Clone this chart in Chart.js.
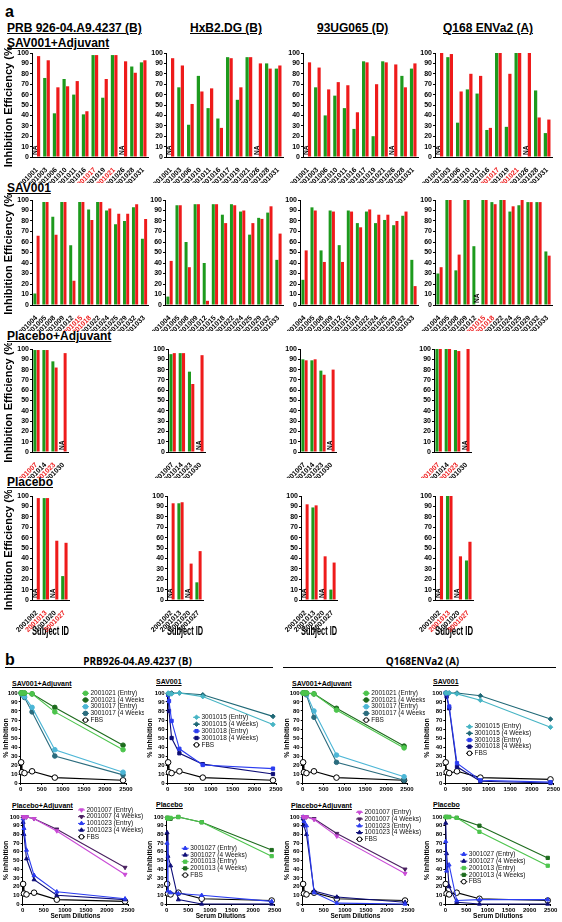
<!DOCTYPE html>
<html>
<head>
<meta charset="utf-8">
<script src="https://cdn.jsdelivr.net/npm/chart.js@4.4.1/dist/chart.umd.min.js"></script>
<style>
  body { margin: 0; background: #fff; }
  #page { position: relative; width: 562px; height: 922px; overflow: hidden; font-family: "Liberation Sans", Arial, sans-serif; }
  #page canvas { position: absolute; }
  .lbl { position: absolute; font-weight: bold; white-space: nowrap; line-height: 1; color: #000; }
  .u { text-decoration: underline; }
  .rule { position: absolute; height: 0; border-top: 1px solid #000; }
</style>
</head>
<body>
<div id="page"></div>
<script>
// ---------- panel a: subject ids for each group
const savAdjIds = ['1001001','1001003','2001006','2001010','2001011','3001016','3001017','3001019','2001021','3001026','4001028','4001031'];
const savIds = ['2001004','1001005','2001008','2001009','2001012','3001015','3001018','2001022','3001024','1001025','4001029','3001032','3001033'];
const plaAdjIds = ['2001007','1001014','1001023','4001030'];
const plaIds = ['2001002','2001013','1001020','3001027'];

// ids printed in red (only in the PRB and Q168 columns)
const savAdjRedIds = ['3001017','2001021'];
const savRedIds = ['3001015','3001018'];
const plaAdjRedIds = ['2001007','1001023'];
const plaRedIds = ['2001013','3001027'];

// inhibition efficiency (%), null = NA
// SAV001+Adjuvant
const savAdjPrbGreen  = [null,76,42,75,60,41,98,57,98,null,87,91];
const savAdjPrbRed    = [97,93,67,68,73,44,98,75,98,92,81,93];
const savAdjHxbGreen  = [null,67,31,78,47,37,96,55,96,null,90,85];
const savAdjHxbRed    = [95,88,51,63,66,28,95,67,96,90,85,88];
const savAdjUgGreen   = [null,67,40,59,47,27,92,20,92,null,78,85];
const savAdjUgRed     = [91,86,65,72,69,43,91,70,91,89,67,90];
const savAdjQ168Green = [null,96,33,65,61,26,100,29,100,null,64,23];
const savAdjQ168Red   = [100,99,63,80,78,28,100,80,100,100,38,36];
// SAV001
const savPrbGreen  = [11,98,84,98,57,98,91,98,90,77,80,93,63];
const savPrbRed    = [66,98,67,98,23,98,81,98,92,87,87,96,82];
const savHxbGreen  = [8,95,60,96,40,96,86,96,89,67,83,88,43];
const savHxbRed    = [42,95,36,96,4,96,78,95,90,78,82,94,68];
const savUgGreen   = [24,93,52,90,57,90,78,89,78,81,76,85,43];
const savUgRed     = [52,90,41,89,41,89,74,91,86,86,80,89,18];
const savQ168Green = [30,100,33,100,56,100,98,100,89,95,98,98,51];
const savQ168Red   = [36,100,48,100,null,100,96,100,94,100,98,98,47];
// Placebo+Adjuvant
const plaAdjPrbGreen  = [99,99,88,null];
const plaAdjPrbRed    = [99,99,82,96];
const plaAdjHxbGreen  = [95,96,78,null];
const plaAdjHxbRed    = [96,96,66,94];
const plaAdjUgGreen   = [90,89,79,null];
const plaAdjUgRed     = [89,90,75,80];
const plaAdjQ168Green = [100,100,99,null];
const plaAdjQ168Red   = [100,100,98,100];
// Placebo
const plaPrbGreen  = [null,98,null,23];
const plaPrbRed    = [98,98,57,55];
const plaHxbGreen  = [null,93,null,17];
const plaHxbRed    = [93,94,35,47];
const plaUgGreen   = [null,89,null,10];
const plaUgRed     = [92,91,42,36];
const plaQ168Green = [null,100,null,38];
const plaQ168Red   = [100,100,42,56];

// ---------- panel b: % inhibition at each serum dilution
const dilutions = [10, 30, 90, 270, 810, 2430];
const xTicks = [0, 500, 1000, 1500, 2000, 2500];

// PRB926-04.A9.4237 (B)
const prbSavAdj_2001021_entry = [100,100,100,99,79,37];
const prbSavAdj_2001021_wk4   = [100,100,100,99,84,42];
const prbSavAdj_3001017_entry = [100,99,96,84,37,12];
const prbSavAdj_3001017_wk4   = [100,98,95,79,30,9];
const prbSavAdj_fbs           = [23,12,11,13,6,3];
const prbSav_3001015_entry = [100,99,99,100,96,65];
const prbSav_3001015_wk4   = [99,99,100,100,98,74];
const prbSav_3001018_entry = [98,91,69,38,20,16];
const prbSav_3001018_wk4   = [98,80,50,33,21,10];
const prbSav_fbs           = [23,12,11,13,6,3];
const prbPlaAdj_2001007_entry = [100,100,100,98,84,34];
const prbPlaAdj_2001007_wk4   = [100,100,100,98,86,42];
const prbPlaAdj_1001023_entry = [98,87,62,33,14,6];
const prbPlaAdj_1001023_wk4   = [94,80,52,28,10,5];
const prbPlaAdj_fbs           = [23,12,11,13,5,3];
const prbPla_3001027_entry = [70,15,13,12,10,3];
const prbPla_3001027_wk4   = [82,55,44,5,0,0];
const prbPla_2001013_entry = [99,98,99,100,94,55];
const prbPla_2001013_wk4   = [99,99,98,100,94,62];
const prbPla_fbs           = [23,12,11,13,6,4];
// Q168ENVa2 (A)
const q168SavAdj_2001021_entry = [100,100,100,99,81,39];
const q168SavAdj_2001021_wk4   = [100,100,100,99,83,41];
const q168SavAdj_3001017_entry = [100,100,99,80,31,7];
const q168SavAdj_3001017_wk4   = [100,100,98,73,23,3];
const q168SavAdj_fbs           = [23,12,11,13,6,3];
const q168Sav_3001015_entry = [100,100,100,99,92,62];
const q168Sav_3001015_wk4   = [100,100,100,100,97,71];
const q168Sav_3001018_entry = [100,99,85,22,3,1];
const q168Sav_3001018_wk4   = [100,96,83,18,2,0];
const q168Sav_fbs           = [23,12,11,13,6,4];
const q168PlaAdj_2001007_entry = [100,100,100,97,78,35];
const q168PlaAdj_2001007_wk4   = [100,100,100,98,81,40];
const q168PlaAdj_1001023_entry = [100,95,90,13,1,0];
const q168PlaAdj_1001023_wk4   = [98,90,80,15,8,2];
const q168PlaAdj_fbs           = [23,12,11,13,6,4];
const q168Pla_3001027_entry = [72,38,45,4,5,5];
const q168Pla_3001027_wk4   = [93,58,20,2,0,0];
const q168Pla_2001013_entry = [100,100,100,99,83,44];
const q168Pla_2001013_wk4   = [100,100,100,99,90,53];
const q168Pla_fbs           = [23,12,11,13,6,4];

// ---------- styling
const FONT = '"Liberation Sans", Arial, sans-serif';
const GREEN = '#1d9a1d', RED = '#ee1b1b';
const C = {
  lgreen: '#4cc44c', dgreen: '#1d6b1d',
  cyan: '#4cb6d6', teal: '#2b6c7e',
  lteal: '#46b4c4', dteal: '#1f6876',
  blue: '#2b3cf0', navy: '#0d0d78',
  magenta: '#c94ad6', purple: '#4a2060'
};

const page = document.getElementById('page');

function addCanvas(x, y, w, h) {
  const c = document.createElement('canvas');
  c.width = w; c.height = h;
  c.style.left = x + 'px'; c.style.top = y + 'px';
  c.style.width = w + 'px'; c.style.height = h + 'px';
  page.appendChild(c);
  return c;
}

function addText(txt, x, top, size, opt = {}) {
  const d = document.createElement('div');
  d.className = 'lbl' + (opt.u ? ' u' : '');
  d.textContent = txt;
  d.style.fontSize = size + 'px';
  d.style.top = top + 'px';
  d.style.left = x + 'px';
  if (opt.family) d.style.fontFamily = opt.family;
  if (opt.center) d.style.transform = 'translateX(-50%)';
  page.appendChild(d);
}

function addRule(x, y, w) {
  const d = document.createElement('div');
  d.className = 'rule';
  d.style.left = x + 'px'; d.style.top = y + 'px'; d.style.width = w + 'px';
  page.appendChild(d);
}

// writes "NA" where a bar is missing
const naPlugin = {
  id: 'naMarks',
  afterDatasetsDraw(chart) {
    const { ctx, chartArea } = chart;
    ctx.save();
    ctx.font = 'bold 6.5px ' + FONT;
    ctx.fillStyle = '#000';
    ctx.textBaseline = 'middle';
    ctx.textAlign = 'left';
    chart.data.datasets.forEach((ds, d) => {
      const meta = chart.getDatasetMeta(d);
      ds.data.forEach((v, i) => {
        if (v !== null) return;
        ctx.save();
        ctx.translate(meta.data[i].x, chartArea.bottom - 2);
        ctx.rotate(-Math.PI / 2);
        ctx.fillText('NA', 0, 0);
        ctx.restore();
      });
    });
    ctx.restore();
  }
};

// legend drawn inside the plot, like the original
const inLegend = {
  id: 'inLegend',
  afterDraw(chart, args, opts) {
    if (opts.x === undefined) return;
    const ctx = chart.ctx;
    ctx.save();
    ctx.font = '6.5px ' + FONT;
    ctx.textBaseline = 'middle';
    ctx.textAlign = 'left';
    chart.data.datasets.forEach((ds, i) => {
      const y = opts.y + i * opts.dy;
      ctx.lineWidth = 1;
      ctx.strokeStyle = ds.borderColor;
      ctx.beginPath(); ctx.moveTo(opts.x, y); ctx.lineTo(opts.x + 7, y); ctx.stroke();
      ctx.fillStyle = ds.pointBackgroundColor;
      ctx.strokeStyle = ds.pointBorderColor;
      if (Chart.helpers && Chart.helpers.drawPoint) {
        Chart.helpers.drawPoint(ctx, { pointStyle: ds.pointStyle, rotation: ds.pointRotation, radius: 2.3, borderWidth: 1 }, opts.x + 3.5, y);
      }
      ctx.fillStyle = '#111';
      ctx.fillText(ds.label, opts.x + 8.5, y);
    });
    ctx.restore();
  }
};

function barChart(o) {
  const padT = 6, padR = 4;
  const cx = o.yTitle ? 0 : Math.round(o.left - 24);
  const cy = Math.round(o.top - padT);
  const xh = o.xTitle ? 39 : 26;
  const w = Math.round(o.right + padR - cx);
  const h = Math.round(o.bottom + xh - cy);
  const yw = o.left - cx;
  const cv = addCanvas(cx, cy, w, h);
  const tickFont = { size: 7, weight: 'bold', family: FONT };
  new Chart(cv, {
    type: 'bar',
    data: {
      labels: o.labels,
      datasets: [
        { data: o.green, backgroundColor: GREEN, categoryPercentage: 0.72, barPercentage: 0.92 },
        { data: o.red, backgroundColor: RED, categoryPercentage: 0.72, barPercentage: 0.92 }
      ]
    },
    options: {
      responsive: false, animation: false, devicePixelRatio: 1,
      layout: { padding: { top: o.top - cy, right: w - (o.right - cx), left: 0, bottom: 0 } },
      plugins: { legend: { display: false }, tooltip: { enabled: false } },
      scales: {
        x: {
          grid: { display: false },
          border: { color: '#000', width: 1 },
          ticks: {
            autoSkip: false, minRotation: 45, maxRotation: 45, padding: 1,
            font: { size: 7, weight: 'bold', family: FONT },
            color: c => (o.reds || []).includes(c.tick.label) ? RED : '#000'
          },
          title: { display: !!o.xTitle, text: 'Subject ID', color: '#000', padding: { top: 0, bottom: 0 },
                   font: { size: 12, weight: 'bold', family: FONT } },
          afterFit: s => { s.height = xh; }
        },
        y: {
          min: 0, max: 100,
          grid: { drawOnChartArea: false, tickLength: 2, color: '#000' },
          border: { color: '#000', width: 1 },
          ticks: { stepSize: 10, autoSkip: false, padding: 1, color: '#000', font: tickFont },
          title: { display: !!o.yTitle, text: 'Inhibition Efficiency (%)', color: '#000', padding: { top: 2, bottom: 0 },
                   font: { size: 11, weight: 'bold', family: FONT } },
          afterFit: s => { s.width = yw; }
        }
      }
    },
    plugins: [naPlugin]
  });
}

function lineChart(o) {
  const padR = 18;
  const cx = Math.round(o.titleX - 4.2);
  const cy = Math.round(Math.min(o.top - 5, o.legend.y - 5));
  const xh = o.xTitle ? 16 : 11;
  const w = Math.round(o.right + padR - cx);
  const h = Math.round(o.bottom + xh - cy);
  const yw = o.left - cx;
  const cv = addCanvas(cx, cy, w, h);
  const tickFont = { size: 6, weight: 'bold', family: FONT };
  const datasets = o.series.map(s => ({
    label: s.label,
    data: dilutions.map((d, i) => ({ x: d, y: s.y[i] })),
    borderColor: s.color, backgroundColor: s.color,
    pointBackgroundColor: s.open ? '#fff' : s.color,
    pointBorderColor: s.open ? '#000' : s.color,
    pointStyle: s.style, pointRotation: s.rot || 0,
    pointRadius: s.open ? 2.8 : 2.3, pointBorderWidth: 1,
    borderWidth: 1.1, tension: 0, clip: false
  }));
  new Chart(cv, {
    type: 'line',
    data: { datasets },
    options: {
      responsive: false, animation: false, devicePixelRatio: 1,
      layout: { padding: { top: o.top - cy, right: w - (o.right - cx), left: 0, bottom: 0 } },
      plugins: {
        legend: { display: false }, tooltip: { enabled: false },
        inLegend: { x: o.legend.x - cx, y: o.legend.y - cy, dy: o.legend.dy }
      },
      scales: {
        x: {
          type: 'linear', min: 0, max: 2500,
          afterBuildTicks: s => { s.ticks = xTicks.map(v => ({ value: v })); },
          grid: { drawOnChartArea: false, tickLength: 2, color: '#000' },
          border: { color: '#000', width: 1 },
          ticks: { autoSkip: false, maxRotation: 0, padding: 1, color: '#000', font: tickFont,
                   callback: v => String(v) },
          title: { display: !!o.xTitle, text: 'Serum Dilutions', color: '#000', padding: { top: 0, bottom: 0 },
                   font: { size: 6.5, weight: 'bold', family: FONT } },
          afterFit: s => { s.height = xh; }
        },
        y: {
          min: 0, max: 100,
          grid: { drawOnChartArea: false, tickLength: 2, color: '#000' },
          border: { color: '#000', width: 1 },
          ticks: { stepSize: 10, autoSkip: false, padding: 1, color: '#000', font: tickFont },
          title: { display: true, text: '% Inhibition', color: '#000', padding: { top: 0, bottom: 0 },
                   font: { size: 7, weight: 'bold', family: FONT } },
          afterFit: s => { s.width = yw; }
        }
      }
    },
    plugins: [inLegend]
  });
}

// ---------- panel a headings
addText('a', 5, 3.5, 16);
addText('PRB 926-04.A9.4237 (B)', 7, 22.4, 12, { u: true });
addText('HxB2.DG (B)', 190, 22.4, 12, { u: true });
addText('93UG065 (D)', 317, 22.4, 12, { u: true });
addText('Q168 ENVa2 (A)', 443, 22.4, 12, { u: true });
addText('SAV001+Adjuvant', 7, 36.9, 12, { u: true });
addText('SAV001', 7, 182.4, 12, { u: true });
addText('Placebo+Adjuvant', 7, 330.4, 12, { u: true });
addText('Placebo', 7, 476.4, 12, { u: true });

// row 1: SAV001+Adjuvant
barChart({ labels: savAdjIds, green: savAdjPrbGreen, red: savAdjPrbRed, reds: savAdjRedIds, left: 32, right: 148, top: 53, bottom: 157, yTitle: true });
barChart({ labels: savAdjIds, green: savAdjHxbGreen, red: savAdjHxbRed, left: 166, right: 283, top: 53, bottom: 157 });
barChart({ labels: savAdjIds, green: savAdjUgGreen, red: savAdjUgRed, left: 303, right: 418, top: 53, bottom: 157 });
barChart({ labels: savAdjIds, green: savAdjQ168Green, red: savAdjQ168Red, reds: savAdjRedIds, left: 435, right: 552, top: 53, bottom: 157 });
// row 2: SAV001
barChart({ labels: savIds, green: savPrbGreen, red: savPrbRed, reds: savRedIds, left: 32, right: 148.5, top: 200, bottom: 305, yTitle: true });
barChart({ labels: savIds, green: savHxbGreen, red: savHxbRed, left: 165, right: 283, top: 200, bottom: 305 });
barChart({ labels: savIds, green: savUgGreen, red: savUgRed, left: 300, right: 418, top: 200, bottom: 305 });
barChart({ labels: savIds, green: savQ168Green, red: savQ168Red, reds: savRedIds, left: 435, right: 552, top: 200, bottom: 305 });
// row 3: Placebo+Adjuvant
barChart({ labels: plaAdjIds, green: plaAdjPrbGreen, red: plaAdjPrbRed, reds: plaAdjRedIds, left: 32, right: 68, top: 349, bottom: 452, yTitle: true });
barChart({ labels: plaAdjIds, green: plaAdjHxbGreen, red: plaAdjHxbRed, left: 168, right: 205, top: 349, bottom: 452 });
barChart({ labels: plaAdjIds, green: plaAdjUgGreen, red: plaAdjUgRed, left: 300, right: 336, top: 349, bottom: 452 });
barChart({ labels: plaAdjIds, green: plaAdjQ168Green, red: plaAdjQ168Red, reds: plaAdjRedIds, left: 434, right: 471, top: 349, bottom: 452 });
// row 4: Placebo
barChart({ labels: plaIds, green: plaPrbGreen, red: plaPrbRed, reds: plaRedIds, left: 32, right: 69, top: 496, bottom: 600, yTitle: true, xTitle: true });
barChart({ labels: plaIds, green: plaHxbGreen, red: plaHxbRed, left: 167, right: 203, top: 496, bottom: 600, xTitle: true });
barChart({ labels: plaIds, green: plaUgGreen, red: plaUgRed, left: 301, right: 337, top: 496, bottom: 600, xTitle: true });
barChart({ labels: plaIds, green: plaQ168Green, red: plaQ168Red, reds: plaRedIds, left: 435, right: 473, top: 496, bottom: 600, xTitle: true });

// ---------- panel b headings
addText('b', 5, 651.5, 16);
addText('PRB926-04.A9.4237 (B)', 137.5, 655.8, 10, { family: '"Open Sans", sans-serif', center: true });
addText('Q168ENVa2 (A)', 422.5, 655.8, 10, { family: '"Open Sans", sans-serif', center: true });
addRule(5, 667, 268);
addRule(283, 667, 273);
addText('SAV001+Adjuvant', 12, 680.1, 7, { u: true });
addText('SAV001', 156, 678.1, 7, { u: true });
addText('SAV001+Adjuvant', 292, 680.1, 7, { u: true });
addText('SAV001', 433, 678.1, 7, { u: true });
addText('Placebo+Adjuvant', 12, 802.1, 7, { u: true });
addText('Placebo', 156, 800.8, 7, { u: true });
addText('Placebo+Adjuvant', 291, 802.1, 7, { u: true });
addText('Placebo', 433, 800.8, 7, { u: true });

const FBS = y => ({ label: 'FBS', y, color: '#000', style: 'circle', open: true });

lineChart({ left: 20.7, right: 126, top: 693, bottom: 783, titleX: 6.5, legend: { x: 82, y: 693.3, dy: 6.7 }, series: [
  { label: '2001021 (Entry)', y: prbSavAdj_2001021_entry, color: C.lgreen, style: 'circle' },
  { label: '2001021 (4 Weeks)', y: prbSavAdj_2001021_wk4, color: C.dgreen, style: 'circle' },
  { label: '3001017 (Entry)', y: prbSavAdj_3001017_entry, color: C.cyan, style: 'circle' },
  { label: '3001017 (4 Weeks)', y: prbSavAdj_3001017_wk4, color: C.teal, style: 'circle' },
  FBS(prbSavAdj_fbs)
]});
lineChart({ left: 167.7, right: 276, top: 693, bottom: 783, titleX: 150, legend: { x: 193, y: 717.3, dy: 6.9 }, series: [
  { label: '3001015 (Entry)', y: prbSav_3001015_entry, color: C.lteal, style: 'rectRot' },
  { label: '3001015 (4 Weeks)', y: prbSav_3001015_wk4, color: C.dteal, style: 'rectRot' },
  { label: '3001018 (Entry)', y: prbSav_3001018_entry, color: C.blue, style: 'rect' },
  { label: '3001018 (4 Weeks)', y: prbSav_3001018_wk4, color: C.navy, style: 'rect' },
  FBS(prbSav_fbs)
]});
lineChart({ left: 302.7, right: 407, top: 693, bottom: 783, titleX: 287.5, legend: { x: 362.7, y: 693.3, dy: 6.7 }, series: [
  { label: '2001021 (Entry)', y: q168SavAdj_2001021_entry, color: C.lgreen, style: 'circle' },
  { label: '2001021 (4 Weeks)', y: q168SavAdj_2001021_wk4, color: C.dgreen, style: 'circle' },
  { label: '3001017 (Entry)', y: q168SavAdj_3001017_entry, color: C.cyan, style: 'circle' },
  { label: '3001017 (4 Weeks)', y: q168SavAdj_3001017_wk4, color: C.teal, style: 'circle' },
  FBS(q168SavAdj_fbs)
]});
lineChart({ left: 445.3, right: 553.5, top: 693, bottom: 783, titleX: 427.5, legend: { x: 466, y: 726.7, dy: 6.65 }, series: [
  { label: '3001015 (Entry)', y: q168Sav_3001015_entry, color: C.lteal, style: 'rectRot' },
  { label: '3001015 (4 Weeks)', y: q168Sav_3001015_wk4, color: C.dteal, style: 'rectRot' },
  { label: '3001018 (Entry)', y: q168Sav_3001018_entry, color: C.blue, style: 'rect' },
  { label: '3001018 (4 Weeks)', y: q168Sav_3001018_wk4, color: C.navy, style: 'rect' },
  FBS(q168Sav_fbs)
]});
lineChart({ left: 22.7, right: 128, top: 817, bottom: 904, titleX: 6.5, xTitle: true, legend: { x: 78, y: 810, dy: 6.7 }, series: [
  { label: '2001007 (Entry)', y: prbPlaAdj_2001007_entry, color: C.magenta, style: 'triangle', rot: 180 },
  { label: '2001007 (4 Weeks)', y: prbPlaAdj_2001007_wk4, color: C.purple, style: 'triangle', rot: 180 },
  { label: '1001023 (Entry)', y: prbPlaAdj_1001023_entry, color: C.blue, style: 'triangle' },
  { label: '1001023 (4 Weeks)', y: prbPlaAdj_1001023_wk4, color: C.navy, style: 'triangle' },
  FBS(prbPlaAdj_fbs)
]});
lineChart({ left: 166.7, right: 274.7, top: 817, bottom: 904, titleX: 150, xTitle: true, legend: { x: 181.7, y: 848.3, dy: 6.7 }, series: [
  { label: '3001027 (Entry)', y: prbPla_3001027_entry, color: C.blue, style: 'triangle' },
  { label: '3001027 (4 Weeks)', y: prbPla_3001027_wk4, color: C.navy, style: 'triangle' },
  { label: '2001013 (Entry)', y: prbPla_2001013_entry, color: C.lgreen, style: 'rect' },
  { label: '2001013 (4 Weeks)', y: prbPla_2001013_wk4, color: C.dgreen, style: 'rect' },
  FBS(prbPla_fbs)
]});
lineChart({ left: 302.7, right: 408, top: 817, bottom: 904, titleX: 287, xTitle: true, legend: { x: 356, y: 812.3, dy: 6.75 }, series: [
  { label: '2001007 (Entry)', y: q168PlaAdj_2001007_entry, color: C.magenta, style: 'triangle', rot: 180 },
  { label: '2001007 (4 Weeks)', y: q168PlaAdj_2001007_wk4, color: C.purple, style: 'triangle', rot: 180 },
  { label: '1001023 (Entry)', y: q168PlaAdj_1001023_entry, color: C.blue, style: 'triangle' },
  { label: '1001023 (4 Weeks)', y: q168PlaAdj_1001023_wk4, color: C.navy, style: 'triangle' },
  FBS(q168PlaAdj_fbs)
]});
lineChart({ left: 445.3, right: 550.7, top: 817, bottom: 904, titleX: 427, xTitle: true, legend: { x: 460.3, y: 854.3, dy: 6.85 }, series: [
  { label: '3001027 (Entry)', y: q168Pla_3001027_entry, color: C.blue, style: 'triangle' },
  { label: '3001027 (4 Weeks)', y: q168Pla_3001027_wk4, color: C.navy, style: 'triangle' },
  { label: '2001013 (Entry)', y: q168Pla_2001013_entry, color: C.lgreen, style: 'rect' },
  { label: '2001013 (4 Weeks)', y: q168Pla_2001013_wk4, color: C.dgreen, style: 'rect' },
  FBS(q168Pla_fbs)
]});
</script>
</body>
</html>
